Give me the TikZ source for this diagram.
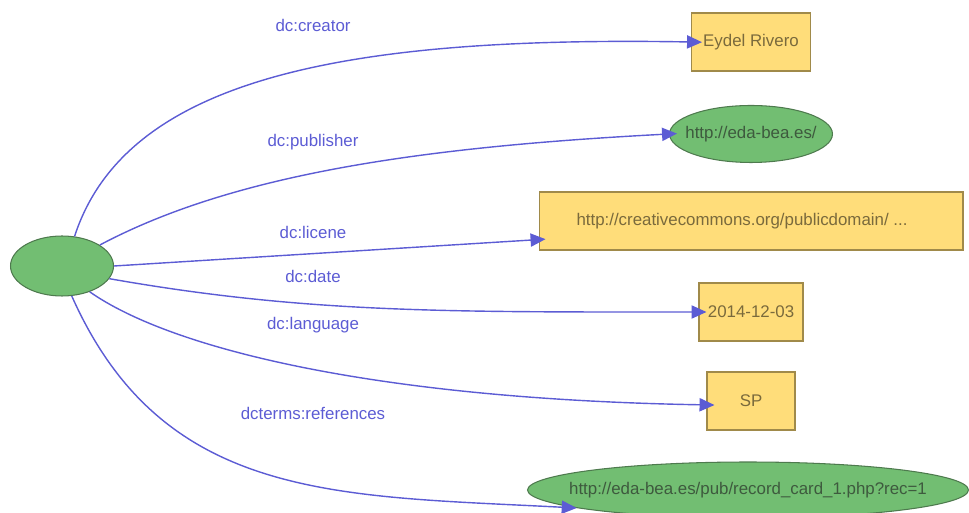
\documentclass[tikz,border=0pt]{standalone}
\usepackage{fontspec}
\setmainfont{Liberation Sans}
\usetikzlibrary{shapes.geometric,arrows.meta}
\definecolor{edgeblue}{RGB}{92,92,212}
\definecolor{litfill}{RGB}{255,221,122}
\definecolor{litborder}{RGB}{160,138,74}
\definecolor{littext}{RGB}{122,106,60}
\definecolor{resfill}{RGB}{114,190,114}
\definecolor{resborder}{RGB}{78,122,78}
\definecolor{restext}{RGB}{62,90,62}
\begin{document}
\begin{tikzpicture}[x=0.02cm,y=0.02cm,font=\fontsize{9.6}{11}\selectfont,
  lit/.style={draw=litborder,fill=litfill,text=littext,line width=0.6pt,minimum height=1.16cm,inner sep=0pt},
  res/.style={ellipse,draw=resborder,fill=resfill,text=restext,line width=0.6pt,inner sep=0pt},
  prop/.style={text=edgeblue},
  rel/.style={edgeblue,line width=0.8pt,-{Triangle[length=8.5pt,width=7.5pt]},shorten >=-0.16cm}]
  \useasboundingbox (0,0) rectangle (969,513);
  \node[res,minimum width=2.06cm,minimum height=1.2cm] (subj) at (62,247) {};
  \node[lit,minimum width=2.38cm] (creator) at (751,471) {Eydel Rivero};
  \node[res,minimum width=3.26cm,minimum height=1.14cm] (publisher) at (751,379) {\makebox[0pt]{http://eda-bea.es/}};
  \node[lit,minimum width=8.48cm] (license) at (751,292) {http://creativecommons.org/publicdomain/ ...\hspace*{0.36cm}};
  \node[lit,minimum width=2.08cm] (date) at (751,201) {2014-12-03};
  \node[lit,minimum width=1.76cm] (lang) at (751,112) {SP};
  \node[res,minimum width=8.82cm,minimum height=1.12cm] (refs) at (748,23) {\makebox[0pt]{http://eda-bea.es/pub/record\_card\_1.php?rec=1}};
  \draw[rel,shorten >=-0.22cm] (subj.67) .. controls +(72:165) and +(179:350) .. (creator.west);
  \draw[rel] (subj.29) .. controls +(28:150) and +(183:250) .. (publisher.west);
  \draw[rel,shorten >=-0.14cm] (subj.east) -- (license.185);
  \draw[rel] (subj.-15) .. controls +(-10:200) and +(180:250) .. (date.west);
  \draw[rel] (subj.-43) .. controls +(-35:100) and +(179:330) .. (lang.185);
  \draw[rel,shorten >=0pt] (subj.-72) .. controls +(-66:225) and +(177:240) .. (refs.186);
  \foreach \y/\lbl in {488/dc:creator,371/dc:publisher,281/dc:licene,237/dc:date,188/dc:language,100/dcterms:references}
    \node[prop] (lbl\y) at (313,\y) {\lbl};
\end{tikzpicture}
\end{document}
